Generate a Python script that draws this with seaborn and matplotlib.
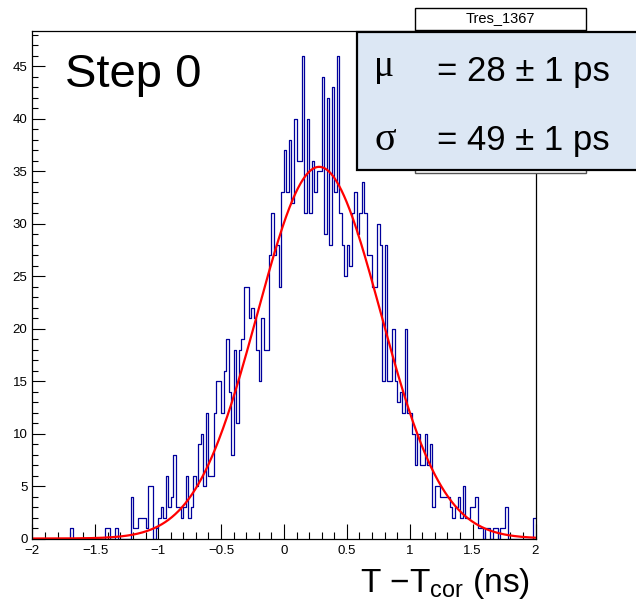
import numpy as np
import pandas as pd
import matplotlib
matplotlib.use("Agg")
import matplotlib.pyplot as plt
import seaborn as sns
from matplotlib.patches import Rectangle
from matplotlib.ticker import MultipleLocator, FixedLocator

# ---------------- data ----------------
bin_low, bin_high, n_bins = -2.0, 2.0, 200
counts = [
    0, 0, 0, 0, 0, 0, 0, 0, 0, 0, 0, 0, 0, 0, 0, 1, 0, 0, 0, 0,
    0, 0, 0, 0, 0, 0, 0, 0, 0, 1, 1, 0, 0, 1, 0, 0, 0, 0, 0, 4,
    1, 1, 2, 2, 2, 1, 5, 5, 0, 1, 2, 3, 2, 6, 3, 4, 8, 3, 3, 2,
    3, 6, 2, 3, 6, 5, 9, 10, 5, 12, 6, 6, 12, 15, 15, 12, 16, 19, 14, 8,
    18, 11, 18, 19, 24, 24, 21, 22, 21, 18, 15, 21, 18, 18, 27, 31, 27, 28, 24, 33,
    37, 33, 38, 32, 40, 36, 36, 46, 31, 40, 31, 36, 33, 35, 35, 44, 29, 42, 28, 43,
    33, 46, 31, 28, 25, 28, 26, 31, 33, 29, 31, 34, 31, 27, 27, 24, 24, 30, 28, 15,
    28, 15, 15, 20, 15, 13, 14, 12, 20, 12, 12, 10, 7, 10, 7, 7, 10, 7, 9, 3,
    5, 5, 4, 4, 4, 4, 3, 2, 3, 4, 2, 5, 2, 2, 3, 3, 4, 1, 1, 0,
    1, 1, 0, 1, 1, 0, 1, 1, 3, 0, 0, 0, 0, 0, 0, 0, 0, 0, 0, 2,
]
fit_amplitude = 35.4
fit_mean = 0.28
fit_sigma = 0.49

x_tick_values = [-2, -1.5, -1, -0.5, 0, 0.5, 1, 1.5, 2]
x_tick_labels = ["\u22122", "\u22121.5", "\u22121", "\u22120.5", "0", "0.5", "1", "1.5", "2"]
y_tick_values = [0, 5, 10, 15, 20, 25, 30, 35, 40, 45]
y_tick_labels = ["0", "5", "10", "15", "20", "25", "30", "35", "40", "45"]

hist_title = "Tres_1367"
step_label = "Step 0"
mu_symbol, mu_value = "\u03bc", "= 28 \u00b1 1 ps"
sigma_symbol, sigma_value = "\u03c3", "= 49 \u00b1 1 ps"
x_label = "T \u2212T$_{\\mathrm{cor}}$ (ns)"

# ---------------- style ----------------
sns.set_style("white")
plt.rcParams["font.family"] = ["Liberation Sans", "DejaVu Sans"]
plt.rcParams["mathtext.fontset"] = "custom"
plt.rcParams["mathtext.rm"] = "Liberation Sans"
plt.rcParams["mathtext.it"] = "Liberation Sans:italic"
plt.rcParams["axes.unicode_minus"] = True
for key in ["text.color", "axes.labelcolor", "xtick.color", "ytick.color", "axes.edgecolor"]:
    plt.rcParams[key] = "black"
narrow = ["Liberation Sans Narrow", "Liberation Sans", "DejaVu Sans"]

W, H = 636, 605
fig = plt.figure(figsize=(W / 100, H / 100), dpi=100)
fig.patch.set_facecolor("white")

def fx(px):
    return px / W

def fy(py):
    return 1 - py / H

ax_left, ax_right, ax_top, ax_bottom = 32.4, 535.5, 31.4, 538.5
ax = fig.add_axes([fx(ax_left), fy(ax_bottom), fx(ax_right - ax_left), (ax_bottom - ax_top) / H])
ax.set_facecolor("white")

edges = np.linspace(bin_low, bin_high, n_bins + 1)
hist_df = pd.DataFrame({"center": 0.5 * (edges[:-1] + edges[1:]), "count": counts})

sns.histplot(data=hist_df, x="center", weights="count", bins=n_bins,
             binrange=(bin_low, bin_high), element="step", fill=False,
             color="#00009c", linewidth=0.9, ax=ax)

fit_df = pd.DataFrame({"x": np.linspace(bin_low, bin_high, 600)})
fit_df["y"] = fit_amplitude * np.exp(-0.5 * ((fit_df["x"] - fit_mean) / fit_sigma) ** 2)
sns.lineplot(data=fit_df, x="x", y="y", color="#ff0000", linewidth=1.6, ax=ax)

ax.set_xlim(bin_low, bin_high)
ax.set_ylim(0, 1.05 * max(counts))
ax.set_ylabel("")
ax.set_xlabel(x_label, fontsize=24, loc="right", color="black")
ax.xaxis.set_label_coords((530 - ax_left) / (ax_right - ax_left), -(592 - ax_bottom) / (ax_bottom - ax_top))
ax.xaxis.label.set_va("baseline")

ax.xaxis.set_major_locator(FixedLocator(x_tick_values))
ax.set_xticklabels(x_tick_labels)
ax.xaxis.set_minor_locator(MultipleLocator(0.1))
ax.yaxis.set_major_locator(FixedLocator(y_tick_values))
ax.set_yticklabels(y_tick_labels)
ax.yaxis.set_minor_locator(MultipleLocator(1))

ax.tick_params(axis="x", which="major", direction="in", length=10.5, width=0.8, pad=4.5,
               labelsize=9.5, bottom=True, top=False, colors="black")
ax.tick_params(axis="x", which="minor", direction="in", length=5, width=0.8, bottom=True, top=False, colors="black")
ax.tick_params(axis="y", which="major", direction="in", length=9.6, width=0.8, pad=3.5,
               labelsize=9.5, left=True, right=False, colors="black")
ax.tick_params(axis="y", which="minor", direction="in", length=4, width=0.8, left=True, right=False, colors="black")
for lab in ax.get_xticklabels() + ax.get_yticklabels():
    lab.set_family(narrow)
for sp in ax.spines.values():
    sp.set_visible(True)
    sp.set_color("black")
    sp.set_linewidth(0.9)

# Step label
fig.text(fx(65), fy(87), step_label, fontsize=34, ha="left", va="baseline", color="black")

# hidden original stat box + title box
fig.add_artist(Rectangle((fx(415), fy(173)), fx(586 - 415), (173 - 30) / H,
                         transform=fig.transFigure, facecolor="white", edgecolor="#555555",
                         linewidth=1.0, zorder=5))
fig.add_artist(Rectangle((fx(415), fy(29.5)), fx(586 - 415), (29.5 - 8) / H,
                         transform=fig.transFigure, facecolor="white", edgecolor="black",
                         linewidth=1.0, zorder=5))
fig.text(fx(500.5), fy(18.5), hist_title, fontsize=10.5, ha="center", va="center",
         family=narrow, zorder=6, color="black")

# fit result box
fig.add_artist(Rectangle((fx(357), fy(170)), fx(700 - 357), (170 - 32.3) / H,
                         transform=fig.transFigure, facecolor="#dce7f4", edgecolor="black",
                         linewidth=1.6, zorder=7))
serif = ["Liberation Serif", "DejaVu Serif"]
fig.text(fx(374), fy(76), mu_symbol, fontsize=27, family=serif, ha="left", va="baseline", zorder=8, color="black")
fig.text(fx(437), fy(81.5), mu_value, fontsize=25, ha="left", va="baseline", zorder=8, color="black")
fig.text(fx(375), fy(150), sigma_symbol, fontsize=29, family=serif, ha="left", va="baseline", zorder=8, color="black")
fig.text(fx(437), fy(150), sigma_value, fontsize=25, ha="left", va="baseline", zorder=8, color="black")

fig.savefig("out.png", dpi=100, facecolor="white")
